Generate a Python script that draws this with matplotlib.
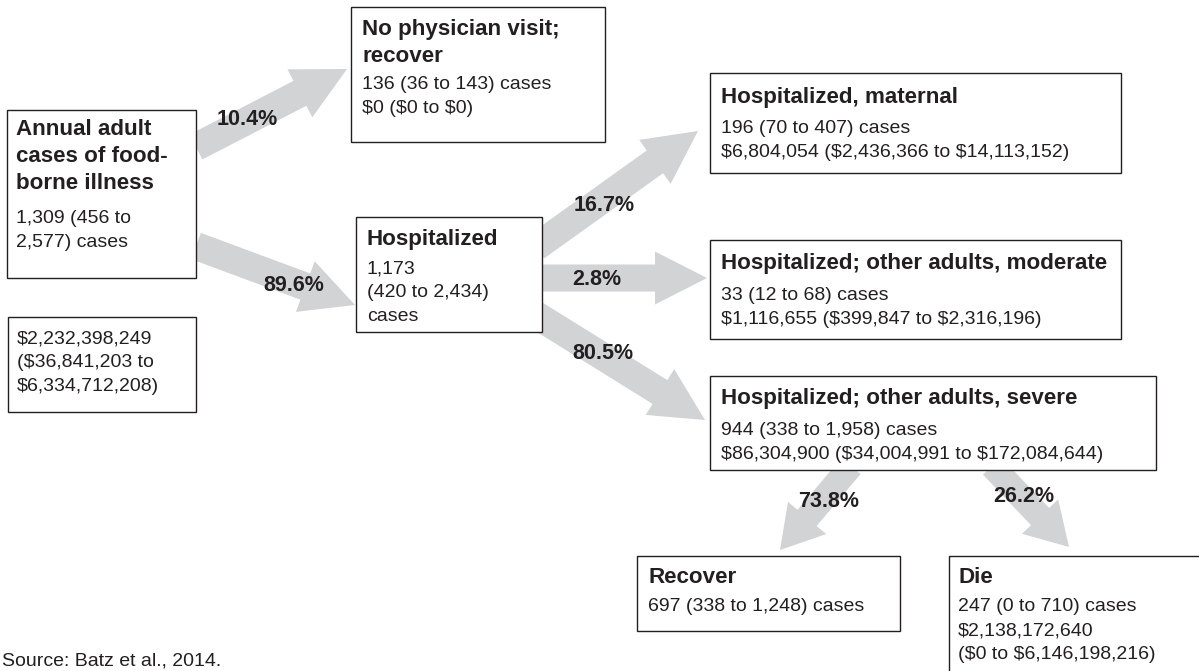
import matplotlib
matplotlib.use("Agg")
import matplotlib.pyplot as plt
from matplotlib.patches import Rectangle, FancyArrow

# ---------------- data ----------------
node_titles = [
    "Annual adult\ncases of food-\nborne illness",
    "No physician visit;\nrecover",
    "Hospitalized",
    "Hospitalized, maternal",
    "Hospitalized; other adults, moderate",
    "Hospitalized; other adults, severe",
    "Recover",
    "Die",
]
cases_mean = [1309, 136, 1173, 196, 33, 944, 697, 247]
cases_low = [456, 36, 420, 70, 12, 338, 338, 0]
cases_high = [2577, 143, 2434, 407, 68, 1958, 1248, 710]
cost_mean = [2232398249, 0, None, 6804054, 1116655, 86304900, None, 2138172640]
cost_low = [36841203, 0, None, 2436366, 399847, 34004991, None, 0]
cost_high = [6334712208, 0, None, 14113152, 2316196, 172084644, None, 6146198216]
branch_pct = [10.4, 89.6, 16.7, 2.8, 80.5, 73.8, 26.2]
source_note = "Source: Batz et al., 2014."

# ---------------- layout (pixel coordinates) ----------------
W, H = 1199, 671
INK = "#231f20"
ARROW = "#d1d3d4"
FONT = ["Liberation Sans", "DejaVu Sans"]
TITLE_FS, BODY_FS, PCT_FS = 16.1, 14, 15.5
TITLE_LS, BODY_LS = 27, 24

CASE_DEFAULT = "{m} ({lo} to {hi}) cases"
COST_DEFAULT = "{m} ({lo} to {hi})"

boxes = [
    dict(node=0, parts=("title", "cases"), rect=(7, 110, 196, 278), tx=16, ty=135, by=223,
         ctmpl="{m} ({lo} to\n{hi}) cases"),
    dict(node=0, parts=("cost",), rect=(8, 317, 196, 412), tx=17, ty=None, by=343,
         dtmpl="{m}\n({lo} to\n{hi})"),
    dict(node=1, parts=("title", "cases", "cost"), rect=(351, 7, 605, 142), tx=362, ty=35, by=89),
    dict(node=2, parts=("title", "cases"), rect=(356, 217, 542, 332), tx=367, ty=245, by=273,
         ctmpl="{m}\n({lo} to {hi})\ncases"),
    dict(node=3, parts=("title", "cases", "cost"), rect=(710, 73, 1121, 173), tx=721, ty=103, by=133),
    dict(node=4, parts=("title", "cases", "cost"), rect=(710, 240, 1121, 339), tx=721, ty=269, by=300),
    dict(node=5, parts=("title", "cases", "cost"), rect=(710, 376, 1156, 470), tx=721, ty=404, by=435),
    dict(node=6, parts=("title", "cases"), rect=(637, 556, 900, 631), tx=648, ty=583, by=611),
    dict(node=7, parts=("title", "cases", "cost"), rect=(949, 556, 1215, 690), tx=958, ty=583, by=611,
         dtmpl="{m}\n({lo} to {hi})"),
]

# arrows: start, tip, shaft width, head width, head length
arrows = [
    ((196, 147), (347, 69), 28, 54, 53),
    ((196, 246), (355, 305), 28, 54, 53),
    ((536, 247), (698, 131), 28, 54, 53),
    ((536, 278), (707, 278), 27, 53, 52),
    ((536, 315), (705, 420), 28, 54, 53),
    ((851, 466), (780, 550), 25, 50, 42),
    ((992, 466), (1069, 547), 25, 50, 42),
]
pct_pos = [(247, 125), (294, 291), (604, 211), (597, 285), (603, 359), (829, 507), (1024, 502)]

# ---------------- drawing ----------------
fig = plt.figure(figsize=(W / 100, H / 100), dpi=100)
ax = fig.add_axes([0, 0, 1, 1])
ax.set_xlim(0, W)
ax.set_ylim(H, 0)
ax.axis("off")


def money(v):
    return f"${v:,}"


for (x0, y0), (x1, y1), w, hw, hl in arrows:
    ax.add_patch(FancyArrow(x0, y0, x1 - x0, y1 - y0, width=w, head_width=hw, head_length=hl,
                            length_includes_head=True, color=ARROW, lw=0, zorder=1))

for b in boxes:
    x0, y0, x1, y1 = b["rect"]
    ax.add_patch(Rectangle((x0, y0), x1 - x0, y1 - y0, facecolor="white", edgecolor=INK,
                           lw=1.0, zorder=2))
    n = b["node"]
    if "title" in b["parts"]:
        for i, line in enumerate(node_titles[n].split("\n")):
            ax.text(b["tx"], b["ty"] + i * TITLE_LS, line, fontsize=TITLE_FS, fontweight="bold",
                    family=FONT, color=INK, va="baseline", ha="left", zorder=3,
                    parse_math=False)
    body = []
    if "cases" in b["parts"]:
        tmpl = b.get("ctmpl", CASE_DEFAULT)
        body += tmpl.format(m=f"{cases_mean[n]:,}", lo=f"{cases_low[n]:,}",
                            hi=f"{cases_high[n]:,}").split("\n")
    if "cost" in b["parts"] and cost_mean[n] is not None:
        tmpl = b.get("dtmpl", COST_DEFAULT)
        body += tmpl.format(m=money(cost_mean[n]), lo=money(cost_low[n]),
                            hi=money(cost_high[n])).split("\n")
    for i, line in enumerate(body):
        ax.text(b["tx"], b["by"] + i * BODY_LS, line, fontsize=BODY_FS, family=FONT, color=INK,
                va="baseline", ha="left", zorder=3, parse_math=False)

for (px, py), p in zip(pct_pos, branch_pct):
    ax.text(px, py, f"{p}%", fontsize=PCT_FS, fontweight="bold", family=FONT, color=INK,
            ha="center", va="baseline", zorder=3, parse_math=False)

ax.text(2, 666, source_note, fontsize=14, family=FONT, color=INK, ha="left", va="baseline",
        parse_math=False)

fig.savefig("out.png", dpi=100)
